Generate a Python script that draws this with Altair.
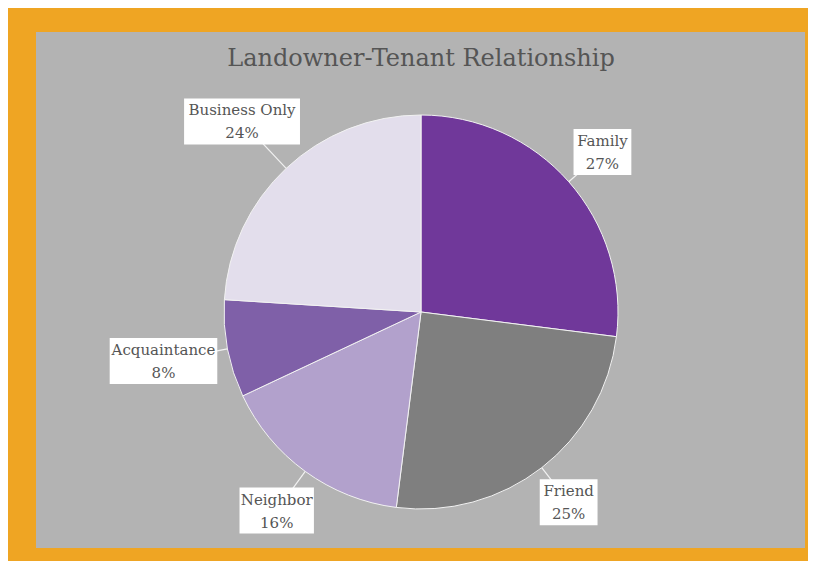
import altair as alt
import pandas as pd

title_text = "Landowner-Tenant Relationship"
categories = ["Family", "Friend", "Neighbor", "Acquaintance", "Business Only"]
shares = [27, 25, 16, 8, 24]
slice_colors = ["#70389a", "#7f7f7f", "#b2a1cc", "#7f60a8", "#e3deec"]

W, H = 800, 553
CX, CY, R = 413, 304, 197
FONT = "DejaVu Serif"
TXT = "#555555"

df = pd.DataFrame({"cat": categories, "share": shares, "order": list(range(len(categories)))})

base = alt.Chart(df)

frame = alt.Chart(pd.DataFrame({"k": [0]})).mark_rect(color="#b3b3b3").encode(
    x=alt.value(28), x2=alt.value(797), y=alt.value(24), y2=alt.value(540)
)

title = alt.Chart(pd.DataFrame({"t": [title_text]})).mark_text(
    font=FONT, fontSize=24, color=TXT, align="center", baseline="middle"
).encode(x=alt.value(CX), y=alt.value(51), text="t:N")

arcs = base.mark_arc(radius=R, stroke="#f2f2f2", strokeWidth=1).encode(
    x=alt.value(CX), y=alt.value(CY),
    theta=alt.Theta("share:Q", stack=True),
    order=alt.Order("order:Q"),
    color=alt.Color("cat:N", scale=alt.Scale(domain=categories, range=slice_colors), legend=None),
)

lab = base.transform_window(
    cum="sum(share)", sort=[alt.SortField("order")]
).transform_joinaggregate(
    total="sum(share)"
).transform_calculate(
    mid="2*PI*(datum.cum - datum.share/2)/datum.total",
    bw="length(datum.cat)*8.3 + 8",
    bh="46",
    pct="datum.share + '%'",
).transform_calculate(
    lr="205 + datum.bw/2*abs(sin(datum.mid)) + datum.bh/2*abs(cos(datum.mid))",
).transform_calculate(
    cx=f"{CX} + datum.lr*sin(datum.mid)",
    cy=f"{CY} - datum.lr*cos(datum.mid)",
    ex=f"{CX} + {R}*sin(datum.mid)",
    ey=f"{CY} - {R}*cos(datum.mid)",
).transform_calculate(
    x1="datum.cx - datum.bw/2", x2="datum.cx + datum.bw/2",
    y1="datum.cy - datum.bh/2", y2="datum.cy + datum.bh/2",
    ty1="datum.cy - 11", ty2="datum.cy + 12",
)

leader = lab.mark_rule(color="#f2f2f2", strokeWidth=1.2).encode(
    x=alt.X("ex:Q", scale=None), y=alt.Y("ey:Q", scale=None),
    x2="cx:Q", y2="cy:Q",
)
boxes = lab.mark_rect(color="white").encode(
    x=alt.X("x1:Q", scale=None), x2="x2:Q",
    y=alt.Y("y1:Q", scale=None), y2="y2:Q",
)
t1 = lab.mark_text(font=FONT, fontSize=15, color=TXT, align="center", baseline="middle").encode(
    x=alt.X("cx:Q", scale=None), y=alt.Y("ty1:Q", scale=None), text="cat:N"
)
t2 = lab.mark_text(font=FONT, fontSize=15, color=TXT, align="center", baseline="middle").encode(
    x=alt.X("cx:Q", scale=None), y=alt.Y("ty2:Q", scale=None), text="pct:N"
)

chart = alt.layer(frame, title, arcs, leader, boxes, t1, t2).properties(
    width=W, height=H, background="#efa523", padding=0,
    autosize=alt.AutoSizeParams(type="none"),
).configure_view(stroke=None)

chart.save("out.html", embed_options={"renderer": "svg", "actions": False})
